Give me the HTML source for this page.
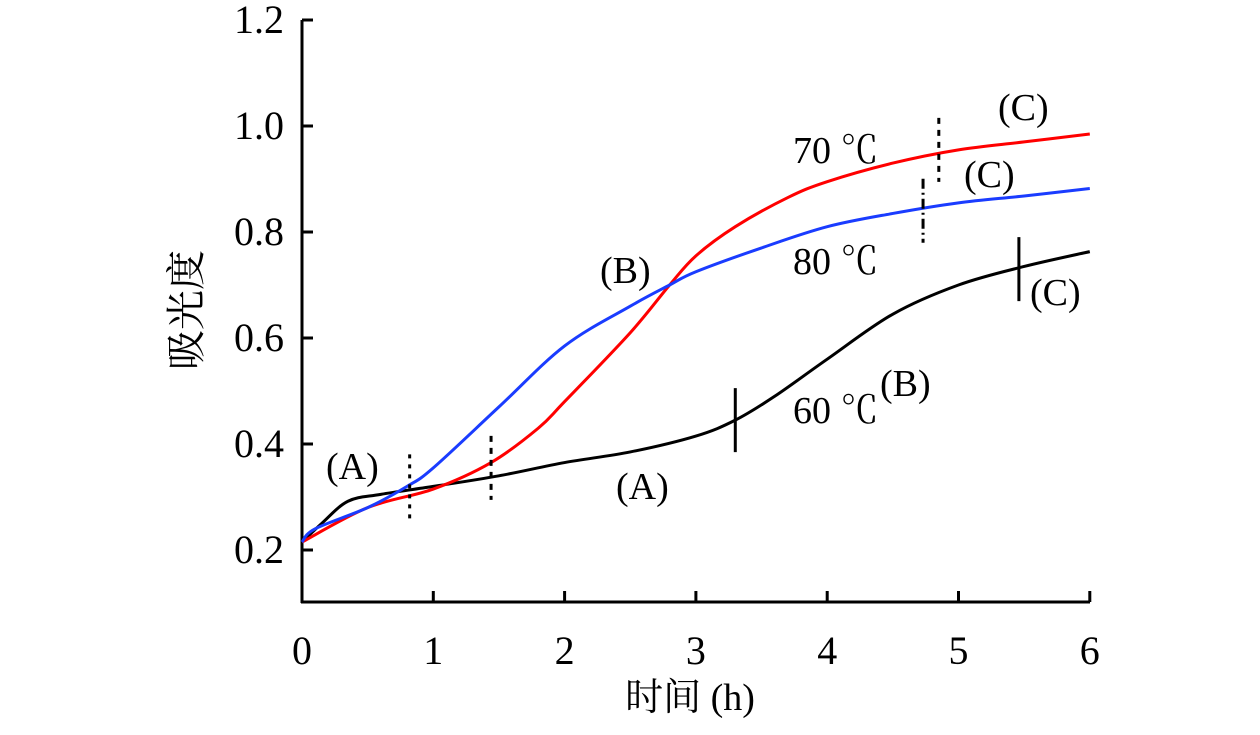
<!DOCTYPE html>
<html><head><meta charset="utf-8"><style>
body{margin:0;background:#fff}
svg text{font-family:"Liberation Serif","Noto Serif CJK SC",serif;fill:#000}
</style></head><body>
<svg width="1260" height="730" id="c">
<line x1="302" y1="20" x2="302" y2="603" stroke="#000" stroke-width="3"/>
<line x1="301" y1="602" x2="1090" y2="602" stroke="#000" stroke-width="3"/>
<g id="ticks"></g><g id="series"></g><g id="marks"></g>
<text x="196" y="314" font-size="40" text-anchor="middle" transform="rotate(-90 196 310)">吸光度</text>
<text x="690" y="710" font-size="38" text-anchor="middle">时间 (h)</text>
<g font-size="38">
<text x="326" y="479">(A)</text>
<text x="616" y="499">(A)</text>
<text x="600" y="283">(B)</text>
<text x="880" y="396">(B)</text>
<text x="998" y="120">(C)</text>
<text x="964" y="187">(C)</text>
<text x="1030" y="305">(C)</text>
<text x="793" y="163">70 ℃</text>
<text x="793" y="274">80 ℃</text>
<text x="793" y="423">60 ℃</text>
</g>
</svg>
<script>
const xTicks=[0,1,2,3,4,5,6];
const yTicks=[0.2,0.4,0.6,0.8,1.0,1.2];
const t60=[0,0.15,0.35,0.6,1.0,1.5,2.0,2.5,3.0,3.3,3.6,4.0,4.5,5.0,5.5,6.0];
const v60=[0.215,0.25,0.292,0.305,0.32,0.34,0.365,0.385,0.415,0.445,0.49,0.56,0.645,0.70,0.735,0.763];
const t70=[0,0.5,1.0,1.44,1.8,2.0,2.5,2.8,3.0,3.3,3.7,4.0,4.5,5.0,5.5,6.0];
const v70=[0.215,0.28,0.315,0.365,0.43,0.48,0.61,0.70,0.755,0.81,0.865,0.895,0.93,0.955,0.97,0.985];
const t80=[0,0.1,0.5,0.8,1.0,1.5,2.0,2.5,2.8,3.0,3.5,4.0,4.5,5.0,5.5,6.0];
const v80=[0.215,0.24,0.28,0.32,0.355,0.47,0.585,0.66,0.70,0.725,0.77,0.81,0.835,0.855,0.868,0.882];
const markX=[0.82,1.44,3.3,5.46,4.73,4.85];
const markY=[0.32,0.355,0.445,0.73,0.84,0.955];
const markStyle=["4,6","6,6","","","10,4,2,4","6,6"];
const X=v=>302+v*131.3, Y=v=>550-(v-0.2)*530;
const NS="http://www.w3.org/2000/svg";
function mk(tag,attrs,parent){const e=document.createElementNS(NS,tag);for(const k in attrs)e.setAttribute(k,attrs[k]);document.getElementById(parent).appendChild(e);return e;}
xTicks.forEach(t=>{
 const l=mk('line',{x1:X(t),x2:X(t),y1:602,y2:591,stroke:'#000','stroke-width':3},'ticks');
 
 
 const tx=mk('text',{x:X(t),y:664,'font-size':40,'text-anchor':'middle'},'ticks');tx.textContent=t;
 
 
});
yTicks.forEach(t=>{
 const l=mk('line',{x1:302,x2:313,y1:Y(t),y2:Y(t),stroke:'#000','stroke-width':3},'ticks');
 
 
 const tx=mk('text',{x:284,y:Y(t)+13,'font-size':40,'text-anchor':'end'},'ticks');tx.textContent=t.toFixed(1);
 
 
});
function smooth(ts,vs){const p=ts.map((t,i)=>[X(t),Y(vs[i])]);let d='M'+p[0];for(let i=0;i<p.length-1;i++){const a=p[i-1]||p[i],b=p[i],c=p[i+1],e=p[i+2]||c;d+=' C'+(b[0]+(c[0]-a[0])/6)+','+(b[1]+(c[1]-a[1])/6)+' '+(c[0]-(e[0]-b[0])/6)+','+(c[1]-(e[1]-b[1])/6)+' '+c;}return d;}
[[t60,v60,'#000','line-60c'],[t70,v70,'#f00','line-70c'],[t80,v80,'#1a3cff','line-80c']].forEach(s=>{
 const p=mk('path',{d:smooth(s[0],s[1]),fill:'none',stroke:s[2],'stroke-width':3},'series');
 
 
});
markX.forEach((m,i)=>{
 const l=mk('line',{x1:X(m),x2:X(m),y1:Y(markY[i])-32,y2:Y(markY[i])+32,stroke:'#000','stroke-width':3,'stroke-dasharray':markStyle[i]},'marks');
 
 
});
</script>
</body></html>
